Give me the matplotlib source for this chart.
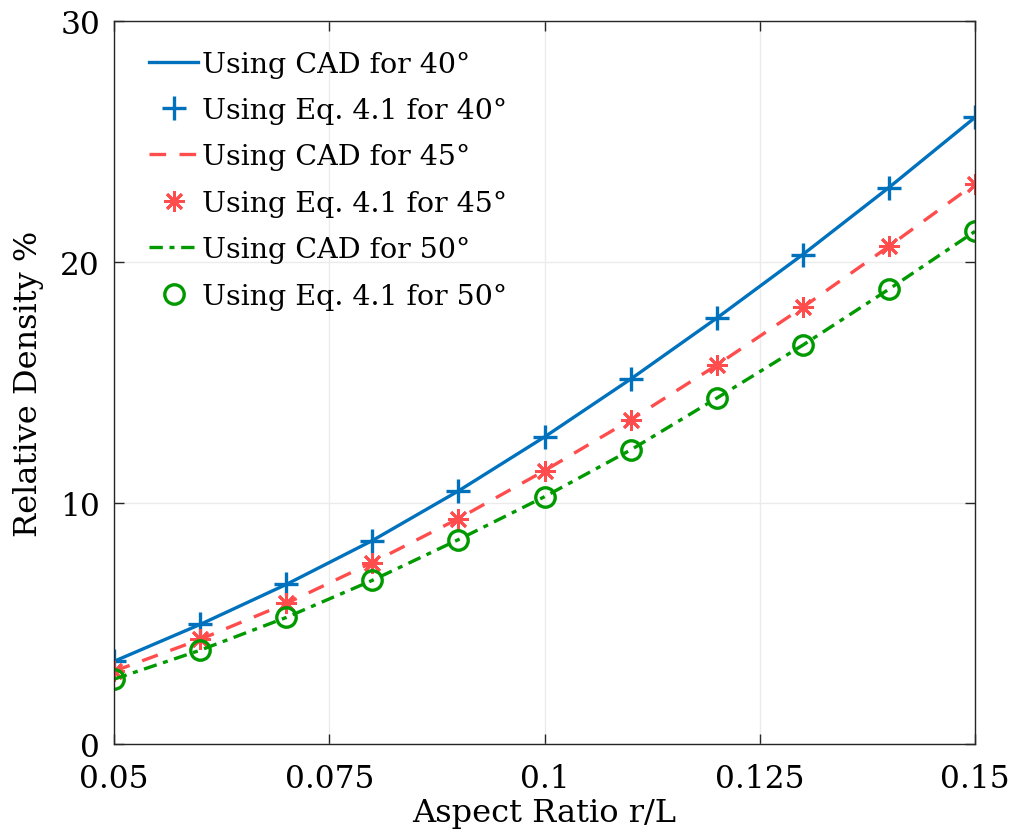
import matplotlib
matplotlib.use("Agg")
import matplotlib.pyplot as plt

# aspect ratio r/L
ratio = [0.05, 0.06, 0.07, 0.08, 0.09, 0.10, 0.11, 0.12, 0.13, 0.14, 0.15]

# relative density (%)
cad_40 = [3.43, 4.96, 6.62, 8.44, 10.50, 12.74, 15.14, 17.67, 20.31, 23.09, 26.00]
eq_40 = [3.43, 4.96, 6.62, 8.44, 10.50, 12.74, 15.14, 17.67, 20.31, 23.09, 26.00]
cad_45 = [3.02, 4.34, 5.83, 7.53, 9.35, 11.34, 13.45, 15.72, 18.12, 20.65, 23.25]
eq_45 = [3.02, 4.34, 5.83, 7.53, 9.35, 11.34, 13.45, 15.72, 18.12, 20.65, 23.25]
cad_50 = [2.69, 3.89, 5.25, 6.79, 8.48, 10.26, 12.20, 14.35, 16.55, 18.87, 21.27]
eq_50 = [2.69, 3.89, 5.25, 6.79, 8.48, 10.26, 12.20, 14.35, 16.55, 18.87, 21.27]

xticks = [0.05, 0.075, 0.1, 0.125, 0.15]
xtick_labels = ["0.05", "0.075", "0.1", "0.125", "0.15"]
yticks = [0, 10, 20, 30]

blue = "#0072BD"
red = "#FF4D4D"
green = "#009900"

plt.rcParams["font.family"] = ["DejaVu Serif"]
plt.rcParams["font.size"] = 22.5

fig = plt.figure(figsize=(10.1, 8.37), dpi=100)
ax = fig.add_axes([114 / 1010, 1 - 745 / 837, (975 - 114) / 1010, (745 - 22) / 837])

ax.plot(ratio, cad_40, "-", color=blue, lw=2.4, label="Using CAD for 40°")
ax.plot(ratio, eq_40, "+", color=blue, ms=17, mew=2.4, ls="none", label="Using Eq. 4.1 for 40°")
ax.plot(ratio, cad_45, "--", color=red, lw=2.4, dashes=(5, 4), label="Using CAD for 45°")
ax.plot(ratio, eq_45, ls="none", color=red, ms=15, mew=2.0, marker=(8, 2, 0),
        label="Using Eq. 4.1 for 45°")
ax.plot(ratio, cad_50, "-.", color=green, lw=2.4, dashes=(4, 2, 1.5, 2), label="Using CAD for 50°")
ax.plot(ratio, eq_50, "o", color=green, ms=14, mew=2.4, mfc="none", ls="none",
        label="Using Eq. 4.1 for 50°")

ax.set_xlim(0.05, 0.15)
ax.set_ylim(0, 30)
ax.set_xticks(xticks)
ax.set_xticklabels(xtick_labels)
ax.set_yticks(yticks)
ax.grid(True, color="#ebebeb", lw=1.0)
ax.set_axisbelow(True)
ax.tick_params(axis="both", direction="in", top=True, right=True, length=7, width=1,
               color="#262626", labelsize=22.5)
ax.tick_params(axis="x", pad=14)
ax.tick_params(axis="y", pad=10)
for s in ax.spines.values():
    s.set_color("#262626")
    s.set_linewidth(1)

ax.set_xlabel("Aspect Ratio r/L", fontsize=23, labelpad=2)
ax.set_ylabel("Relative Density %", fontsize=23, labelpad=12)

ax.legend(loc="upper left", frameon=False, fontsize=20.5, handlelength=1.75, handletextpad=0.12,
          labelspacing=0.68, borderaxespad=0.0, bbox_to_anchor=(0.027, 0.975))

fig.savefig("out.png", dpi=100)
